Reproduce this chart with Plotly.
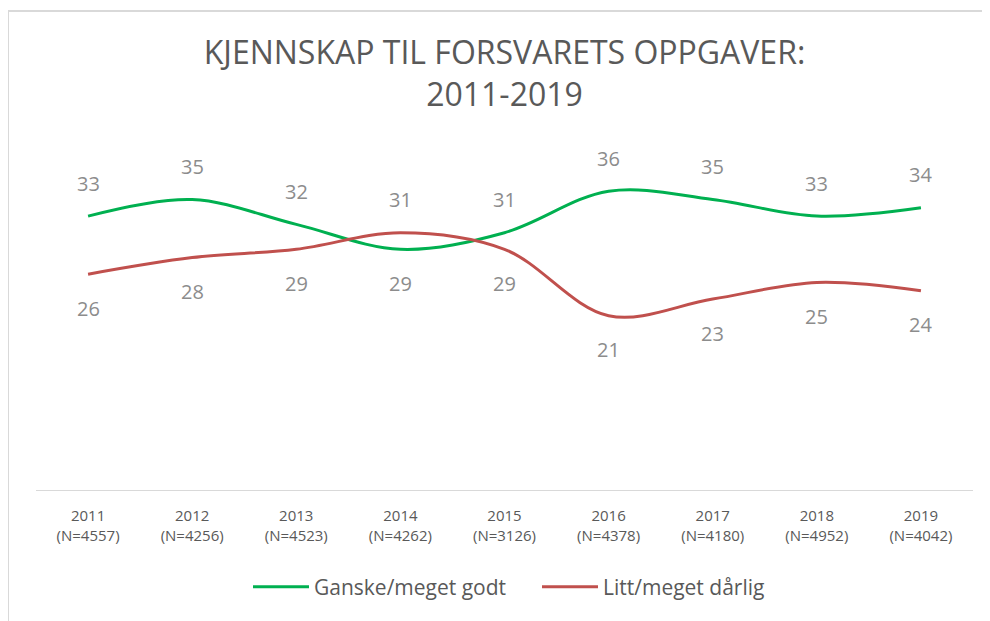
import plotly.graph_objects as go

years = ["2011", "2012", "2013", "2014", "2015", "2016", "2017", "2018", "2019"]
n_sizes = ["4557", "4256", "4523", "4262", "3126", "4378", "4180", "4952", "4042"]
categories = [f"{y}<br>(N={n})" for y, n in zip(years, n_sizes)]

good_name = "Ganske/meget godt"
good_values = [33, 35, 32, 29, 31, 36, 35, 33, 34]
bad_name = "Litt/meget dårlig"
bad_values = [26, 28, 29, 31, 29, 21, 23, 25, 24]

title_text = "KJENNSKAP TIL FORSVARETS OPPGAVER:<br>2011-2019"

GREEN = "#00B050"
RED = "#C0504D"
FONT = "Open Sans"

# plot area in figure pixels
L, R_EDGE, TOP, BOTTOM = 28, 965, 150, 482
PW, PH = R_EDGE - L, BOTTOM - TOP

fig = go.Figure()
fig.add_trace(go.Scatter(x=categories, y=good_values, name=good_name, mode="lines",
                         line=dict(color=GREEN, width=3, shape="spline", smoothing=1.0),
                         hoverinfo="skip"))
fig.add_trace(go.Scatter(x=categories, y=bad_values, name=bad_name, mode="lines",
                         line=dict(color=RED, width=3, shape="spline", smoothing=1.0),
                         hoverinfo="skip"))

# data labels: higher value above, lower value below
for i, c in enumerate(categories):
    for v, other in ((good_values[i], bad_values[i]), (bad_values[i], good_values[i])):
        above = v >= other
        fig.add_annotation(x=c, y=v, text=str(v), showarrow=False,
                           xref="x", yref="y", yanchor="middle",
                           yshift=33 if above else -34,
                           font=dict(family=FONT, size=20, color="#8c8c8c"))

# outer chart border (light gray frame)
fig.add_shape(type="rect", xref="paper", yref="paper",
              x0=(0 - L) / PW, x1=(1010 - L) / PW,
              y0=(BOTTOM - 640) / PH, y1=(BOTTOM - 3) / PH,
              line=dict(color="#d9d9d9", width=2), fillcolor="rgba(0,0,0,0)", layer="below")

fig.update_layout(
    width=990, height=621,
    margin=dict(l=L, r=990 - R_EDGE, t=TOP, b=621 - BOTTOM, autoexpand=False),
    paper_bgcolor="white", plot_bgcolor="white",
    title=dict(text=title_text, x=0.5, xanchor="center", xref="paper",
               y=1 - 56 / 621, yanchor="top",
               font=dict(family=FONT, size=32, color="#595959")),
    xaxis=dict(type="category", range=[-0.5, 8.5], showgrid=False, zeroline=False,
               showline=True, linecolor="#d9d9d9", linewidth=1, ticks="",
               ticklabelstandoff=12,
               tickfont=dict(family=FONT, size=15, color="#595959")),
    yaxis=dict(range=[0, 40], visible=False, showgrid=False, zeroline=False),
    legend=dict(orientation="h", x=(240 - L) / PW, xanchor="left",
                y=(BOTTOM - 579) / PH, yanchor="middle",
                font=dict(family=FONT, size=21, color="#595959"), itemwidth=56,
                entrywidth=218),
    showlegend=True,
)

fig.write_html("out.html")
